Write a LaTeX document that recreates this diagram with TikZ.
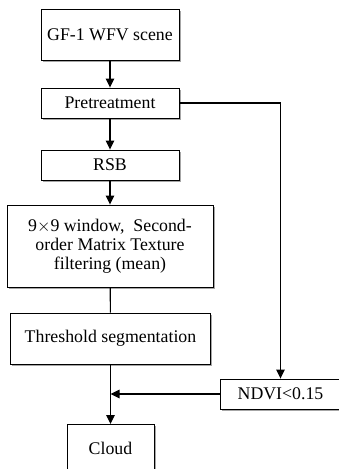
\documentclass[tikz,border=0pt]{standalone}
\usepackage{fontspec}
\setmainfont{Liberation Serif}
\usetikzlibrary{arrows.meta,shadows}
\begin{document}
\begin{tikzpicture}[x=1pt,y=-1pt,
  box/.style={draw=black,line width=0.9pt,fill=white,inner sep=0pt,align=center,
    font=\fontsize{17.8}{19}\selectfont,
    drop shadow={shadow xshift=1.6pt,shadow yshift=-1.6pt,fill=black!35,opacity=1}},
  arr/.style={line width=1.1pt,-{Triangle[length=9pt,width=8.5pt]}},
  ln/.style={line width=1.1pt}]
\useasboundingbox (0,0) rectangle (339,469);
\clip (0,0) rectangle (339,469);
\node[box,minimum width=138pt,minimum height=51pt] (gf) at (110,34.5) {GF-1 WFV scene};
\node[box,minimum width=138pt,minimum height=30pt] (pre) at (110,103) {Pretreatment};
\node[box,minimum width=138pt,minimum height=30pt] (rsb) at (110,165) {RSB};
\node[box,minimum width=206pt,minimum height=82pt] (tex) at (110,246) {9$\times$9 window,\ \ Second-\\order Matrix Texture\\filtering (mean)};
\node[box,minimum width=200pt,minimum height=51pt] (thr) at (110.5,338.5) {Threshold segmentation};
\node[box,minimum width=121pt,minimum height=30pt] (ndvi) at (280.5,394) {NDVI<0.15};
\node[box,anchor=north,minimum width=87pt,text height=12pt,text depth=30pt,inner ysep=18pt] (cloud) at (110.5,424) {Cloud};
\coordinate (m) at (thr.south |- ndvi.west);
\draw[arr] (gf) -- (pre);
\draw[arr] (pre) -- (rsb);
\draw[arr] (rsb) -- (tex);
\draw[ln] (tex) -- (thr);
\draw[arr] (thr.south) -- (cloud.north);
\draw[arr] (pre.east) -| (ndvi.north);
\draw[arr,shorten >=-1pt] (ndvi.west) -- ([xshift=1pt]m);
\end{tikzpicture}
\end{document}
